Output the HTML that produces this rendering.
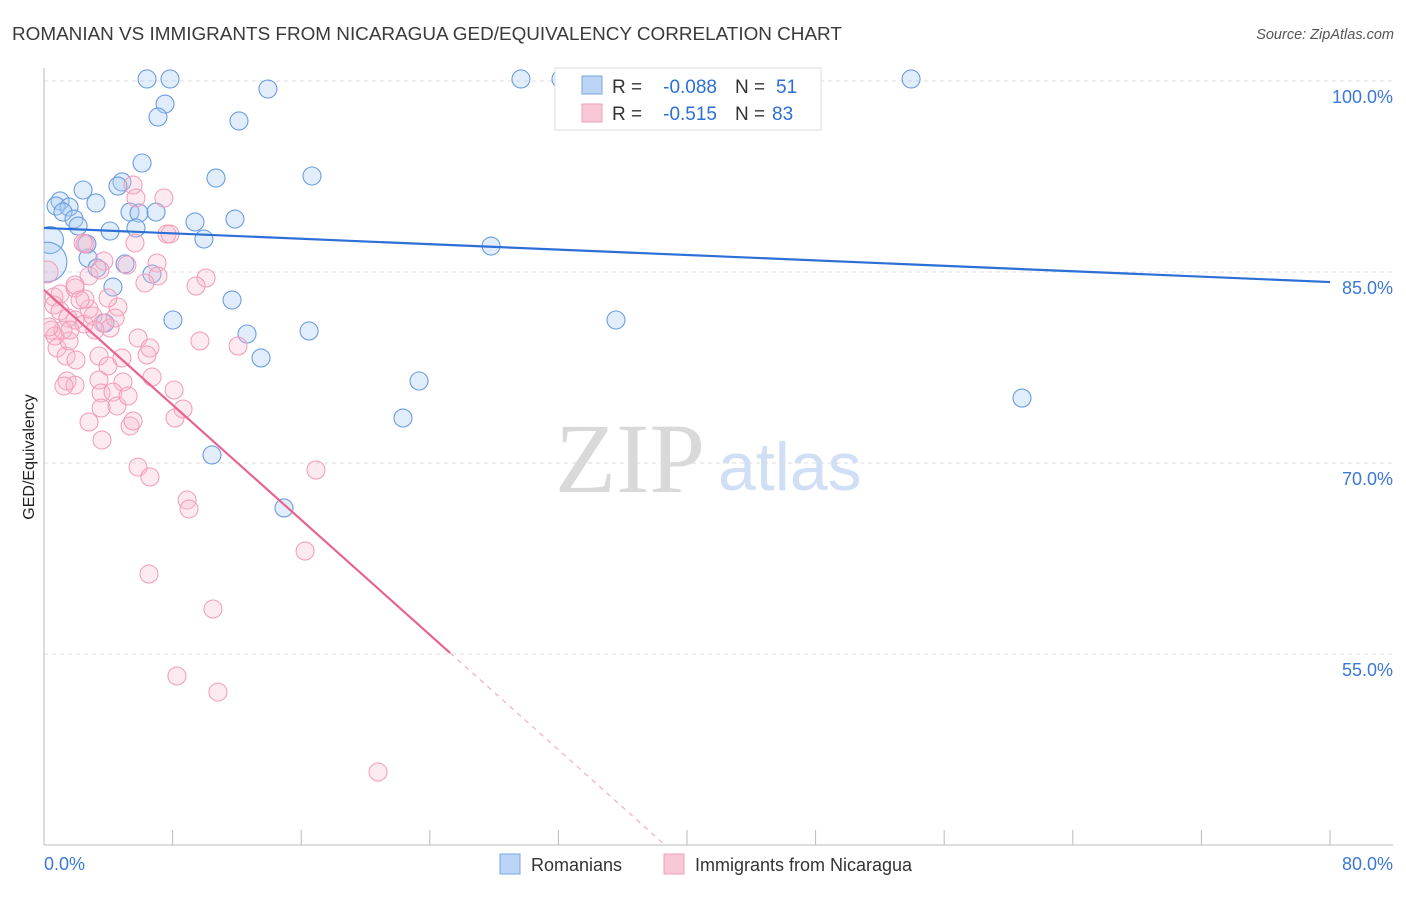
<!DOCTYPE html>
<html><head><meta charset="utf-8"><style>
body{margin:0;background:#fff;font-family:"Liberation Sans",sans-serif}
</style></head><body>
<svg width="1406" height="892" xmlns="http://www.w3.org/2000/svg" id="chart">
<text x="12" y="40" font-size="18.9" fill="#3a3a3a">ROMANIAN VS IMMIGRANTS FROM NICARAGUA GED/EQUIVALENCY CORRELATION CHART</text>
<text x="1394" y="39" font-size="14.5" fill="#555" font-style="italic" text-anchor="end">Source: ZipAtlas.com</text>
<text x="555" y="492" font-size="100" fill="#d9d9d9" font-family="Liberation Serif">ZIP</text>
<text x="718" y="490" font-size="68" fill="#d0dff5">atlas</text>
<g id="grid"></g><g id="axes"></g><g id="pts"></g><g id="lines"></g>
<text transform="translate(34,457) rotate(-90)" font-size="16" fill="#222" text-anchor="middle">GED/Equivalency</text>
<g>
<rect x="555" y="68" width="266" height="62" fill="#fff" stroke="#ddd"/>
<rect x="582" y="76" width="20" height="18" fill="#bcd4f6" stroke="#7aa6e6"/>
<rect x="582" y="104" width="20" height="18" fill="#f9c8d6" stroke="#f0a0b8"/>
<text x="612" y="93" font-size="19" fill="#333">R =</text>
<text x="717" y="93" font-size="19" fill="#2c6fd6" text-anchor="end">-0.088</text>
<text x="735" y="93" font-size="19" fill="#333">N =</text>
<text x="776" y="93" font-size="19" fill="#2c6fd6">51</text>
<text x="612" y="120" font-size="19" fill="#333">R =</text>
<text x="717" y="120" font-size="19" fill="#2c6fd6" text-anchor="end">-0.515</text>
<text x="735" y="120" font-size="19" fill="#333">N =</text>
<text x="772" y="120" font-size="19" fill="#2c6fd6">83</text>
</g>
<g>
<rect x="500" y="854" width="20" height="20" fill="#bcd4f6" stroke="#7aa6e6"/>
<text x="531" y="871" font-size="18" fill="#333">Romanians</text>
<rect x="664" y="854" width="20" height="20" fill="#f9c8d6" stroke="#f0a0b8"/>
<text x="695" y="871" font-size="18" fill="#333">Immigrants from Nicaragua</text>
</g>
</svg>
<script>
const xTickVals=[0,8,16,24,32,40,48,56,64,72,80];
const yTickVals=[100,85,70,55];
const yTickLabels=["100.0%","85.0%","70.0%","55.0%"];
const xEndLabels=["0.0%","80.0%"];
const blueX=[6.41,7.84,29.67,32.16,53.94,13.93,7.53,7.09,12.13,6.10,16.67,10.70,4.85,4.60,2.43,1.00,0.75,1.56,3.23,1.18,1.87,2.12,5.35,5.91,6.97,9.39,11.88,4.11,5.72,9.95,27.81,0.37,0.19,2.74,3.30,5.04,6.72,4.29,11.70,8.02,3.79,12.63,16.49,35.58,13.50,23.33,22.33,60.84,10.45,14.93,2.67];
const blueY=[100.16,100.16,100.16,100.16,100.16,99.37,98.19,97.17,96.86,93.56,92.54,92.38,92.07,91.75,91.44,90.58,90.18,90.10,90.42,89.71,89.16,88.61,89.71,89.63,89.71,88.93,89.16,88.22,88.46,87.59,87.04,87.51,85.79,86.10,85.31,85.63,84.84,83.82,82.80,81.23,80.99,80.13,80.37,81.23,78.25,76.44,73.53,75.10,70.63,66.47,87.20];
const blueSize=[1,1,1,1,1,1,1,1,1,1,1,1,1,1,1,1,1,1,1,1,1,1,1,1,1,1,1,1,1,1,1,1.5,2.2,1,1,1,1,1,1,1,1,1,1,1,1,1,1,1,1,1,1];
const pinkX=[0.19,0.62,1.0,1.93,0.62,0.44,0.68,0.81,1.37,1.56,1.93,2.49,3.05,3.67,4.11,4.60,1.99,3.42,3.98,3.42,4.91,1.43,1.93,3.55,4.29,4.54,3.55,2.80,3.61,5.35,5.54,5.85,6.59,6.72,8.09,8.65,9.70,12.07,16.92,5.85,6.59,8.90,9.02,6.53,10.51,16.24,8.27,10.82,20.78,5.54,7.46,5.72,7.65,7.84,2.43,2.55,2.80,3.73,5.16,7.03,7.09,6.28,10.08,9.46,1.93,2.80,3.17,4.85,2.55,1.0,1.49,5.66,4.42,3.48,5.23,6.41,8.15,1.18,1.62,0.31,1.24,3.98,2.24];
const pinkY=[85.0,83.04,83.27,83.74,82.41,80.44,79.97,79.03,78.40,79.58,81.23,80.92,81.54,80.99,80.60,82.25,78.09,78.40,77.62,76.52,76.36,76.44,76.12,75.50,75.57,74.48,74.32,73.22,71.81,72.91,73.30,79.82,79.03,76.75,75.73,74.24,79.58,79.19,69.45,69.68,68.90,67.09,66.39,61.28,58.53,63.09,53.27,52.01,45.73,91.83,90.81,90.81,87.98,87.98,87.28,87.20,84.69,85.86,85.55,85.71,84.69,84.14,84.53,83.90,83.98,82.09,80.44,78.25,82.88,81.94,81.39,87.28,81.39,85.16,75.26,78.48,73.53,80.44,80.44,80.68,76.05,82.96,82.80];
const blueTrend=[88.46,84.21];
const pinkTrend=[83.59,40.0];
const pinkSolidEnd=25.26, pinkDashEnd=38.63;

const NS="http://www.w3.org/2000/svg";
const X0=44,X1=1330,Y100=81,Y55=654;
function sx(v){return X0+(v/80)*(X1-X0);}
function sy(v){return Y100+(100-v)/45*(Y55-Y100);}
function mk(t,a,p){const e=document.createElementNS(NS,t);for(const k in a)e.setAttribute(k,a[k]);p.appendChild(e);return e;}
const grid=document.getElementById('grid'),axes=document.getElementById('axes'),pts=document.getElementById('pts'),lines=document.getElementById('lines');
yTickVals.forEach((v,i)=>{
  const l=mk('line',{x1:X0,x2:1393,y1:sy(v),y2:sy(v),stroke:'#ddd','stroke-dasharray':'4,4'},grid);
  
  
  const t=mk('text',{x:1393,y:sy(v)+22,'font-size':18,fill:'#3a78d8','text-anchor':'end'},axes);
  t.textContent=yTickLabels[i];
  
  
});
const ya=mk('line',{x1:X0,x2:X0,y1:68,y2:845,stroke:'#bbb'},axes);


const xa=mk('line',{x1:X0,x2:1393,y1:845,y2:845,stroke:'#bbb'},axes);


xTickVals.forEach(v=>{
  const t=mk('line',{x1:sx(v),x2:sx(v),y1:830,y2:845,stroke:'#bbb'},axes);
  
  
});
const xl0=mk('text',{x:44,y:870,'font-size':18,fill:'#3a78d8'},axes);xl0.textContent=xEndLabels[0];


const xl1=mk('text',{x:1393,y:870,'font-size':18,fill:'#3a78d8','text-anchor':'end'},axes);xl1.textContent=xEndLabels[1];


const cp=mk('clipPath',{id:'cp'},document.getElementById('chart'));mk('rect',{x:X0,y:55,width:1360,height:790},cp);
pts.setAttribute('clip-path','url(#cp)');
blueX.forEach((x,i)=>{
  const c=mk('circle',{cx:sx(x),cy:sy(blueY[i]),r:9*blueSize[i],fill:'rgba(170,202,242,0.35)',stroke:'#6a9de2','stroke-width':1.1},pts);
  
  
});
pinkX.forEach((x,i)=>{
  const c=mk('circle',{cx:sx(x),cy:sy(pinkY[i]),r:i==0?11:9,fill:'rgba(248,186,206,0.3)',stroke:'#f29ab6','stroke-width':1},pts);
  
  
});
const bl=mk('line',{x1:sx(0),y1:sy(blueTrend[0]),x2:sx(80),y2:sy(blueTrend[1]),stroke:'#2c6fd6','stroke-width':2.2},lines);


function py(x){return pinkTrend[0]+(pinkTrend[1]-pinkTrend[0])*x/pinkDashEnd;}
const pl=mk('line',{x1:sx(0),y1:sy(py(0)),x2:sx(pinkSolidEnd),y2:sy(py(pinkSolidEnd)),stroke:'#e8648f','stroke-width':2.2},lines);


const pd=mk('line',{x1:sx(pinkSolidEnd),y1:sy(py(pinkSolidEnd)),x2:sx(pinkDashEnd),y2:sy(py(pinkDashEnd)),stroke:'#f0a0b8','stroke-width':1,'stroke-dasharray':'5,5'},lines);


</script>
</body></html>
